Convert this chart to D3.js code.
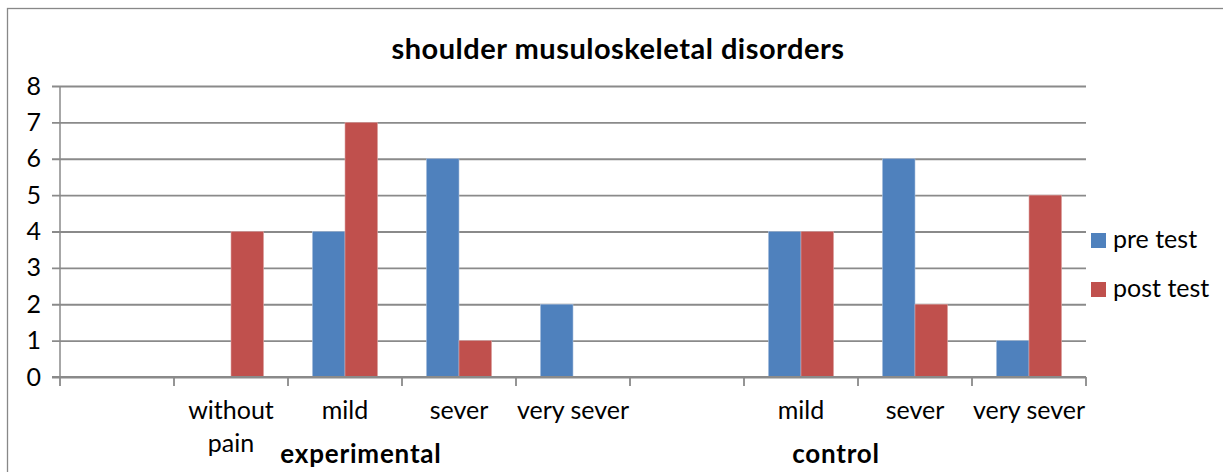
<!DOCTYPE html>
<html>
<head>
<meta charset="utf-8">
<script src="https://cdn.jsdelivr.net/npm/d3@7/dist/d3.min.js"></script>
<style>
  html, body { margin: 0; padding: 0; background: #fff; }
  svg { display: block; }
  text { font-family: "Lato", "Open Sans", sans-serif; fill: #000; }
</style>
</head>
<body>
<svg id="chart" width="1223" height="472"></svg>
<script>
// ---- data ----
const title = "shoulder musuloskeletal disorders";
const categories = ["", "without pain", "mild", "sever", "very sever", "", "mild", "sever", "very sever"];
const categoryGroups = ["experimental", "experimental", "experimental", "experimental", "experimental",
                        "control", "control", "control", "control"];
const groupNames = ["experimental", "control"];
const seriesNames = ["pre test", "post test"];
const preTest  = [0, 0, 4, 6, 2, 0, 4, 6, 1];
const postTest = [0, 4, 7, 1, 0, 0, 4, 2, 5];
const yTicks = [0, 1, 2, 3, 4, 5, 6, 7, 8];
const colors = ["#4F81BD", "#C0504D"];

// ---- layout ----
const W = 1223, H = 472;
const plot = { left: 60, right: 1086, top: 86, bottom: 377 };
const svg = d3.select("#chart");

// outer frame
svg.append("rect").attr("x", 7.5).attr("y", 8.5).attr("width", W + 10).attr("height", H + 10)
  .attr("fill", "none").attr("stroke", "#888").attr("stroke-width", 1.3);

const idx = categories.map((d, i) => i);
const x = d3.scaleBand().domain(idx).range([plot.left, plot.right]).paddingInner(0).paddingOuter(0);
const xs = d3.scaleBand().domain(seriesNames).range([0, x.bandwidth()]).paddingInner(0).paddingOuter(0.75);
const y = d3.scaleLinear().domain([0, 8]).range([plot.bottom, plot.top]);

const gridColor = "#8a8a8a";

// gridlines + y axis
const yAxis = d3.axisLeft(y).tickValues(yTicks).tickSize(8).tickFormat(d3.format("d"));
const gy = svg.append("g").attr("transform", `translate(${plot.left},0)`).call(yAxis);
gy.select(".domain").attr("stroke", gridColor).attr("stroke-width", 1.5)
  .attr("d", `M0,${plot.top}V${plot.bottom}`);
gy.selectAll(".tick line").attr("stroke", gridColor).attr("stroke-width", 1.8)
  .attr("x1", -8).attr("x2", plot.right - plot.left);
gy.selectAll(".tick text").attr("x", -19).style("font-size", "25px").style("font-family", "Lato");

// bars
const series = [preTest, postTest];
series.forEach((vals, si) => {
  svg.append("g").selectAll("rect")
    .data(vals.map((v, i) => ({ i, v })).filter(d => d.v > 0))
    .join("rect")
    .attr("x", d => x(d.i) + xs(seriesNames[si]))
    .attr("width", xs.bandwidth())
    .attr("y", d => y(d.v))
    .attr("height", d => y(0) - y(d.v))
    .attr("fill", colors[si])
    .attr("stroke", si === 0 ? "#a9c0de" : "#dca6a5")
    .attr("stroke-width", 0.6);
});

// x axis
const xAxis = d3.axisBottom(x).tickSize(0).tickFormat(() => "");
const gx = svg.append("g").attr("transform", `translate(0,${plot.bottom})`).call(xAxis);
gx.select(".domain").attr("stroke", gridColor).attr("stroke-width", 1.8)
  .attr("d", `M${plot.left - 8},0H${plot.right}`);
gx.selectAll(".tick").remove();
const edges = idx.map(i => x(i)).concat([x(idx[idx.length - 1]) + x.bandwidth()]);
gx.selectAll("line.edge").data(edges).join("line").attr("class", "edge")
  .attr("x1", d => d).attr("x2", d => d).attr("y1", 0).attr("y2", 9)
  .attr("stroke", gridColor).attr("stroke-width", 1.8);

// category labels
const labelG = svg.append("g");
categories.forEach((c, i) => {
  if (!c) return;
  const cx = x(i) + x.bandwidth() / 2;
  const lines = c === "without pain" ? ["without", "pain"] : [c];
  lines.forEach((ln, li) => {
    labelG.append("text").attr("x", cx).attr("y", 419 + li * 33)
      .attr("text-anchor", "middle").style("font-size", "25px").text(ln);
  });
});

// group labels
const groupOffset = { experimental: 16, control: -22 };
groupNames.forEach(g => {
  const members = idx.filter(i => categoryGroups[i] === g);
  const gx0 = x(members[0]), gx1 = x(members[members.length - 1]) + x.bandwidth();
  svg.append("text").attr("x", (gx0 + gx1) / 2 + groupOffset[g]).attr("y", 463)
    .attr("text-anchor", "middle").style("font-size", "26px").style("font-weight", "bold")
    .style("letter-spacing", "0.8px").text(g);
});

// title
svg.append("text").attr("x", 618).attr("y", 59).attr("text-anchor", "middle")
  .style("font-size", "29px").style("font-weight", "bold").style("letter-spacing", "0.5px").text(title);

// legend
const lg = svg.append("g").attr("transform", "translate(1091,233)");
seriesNames.forEach((s, i) => {
  const row = lg.append("g").attr("transform", `translate(0,${i * 49})`);
  row.append("rect").attr("width", 15).attr("height", 15).attr("fill", colors[i]);
  row.append("text").attr("x", 22).attr("y", 15).style("font-size", "25px").text(s);
});
</script>
</body>
</html>
